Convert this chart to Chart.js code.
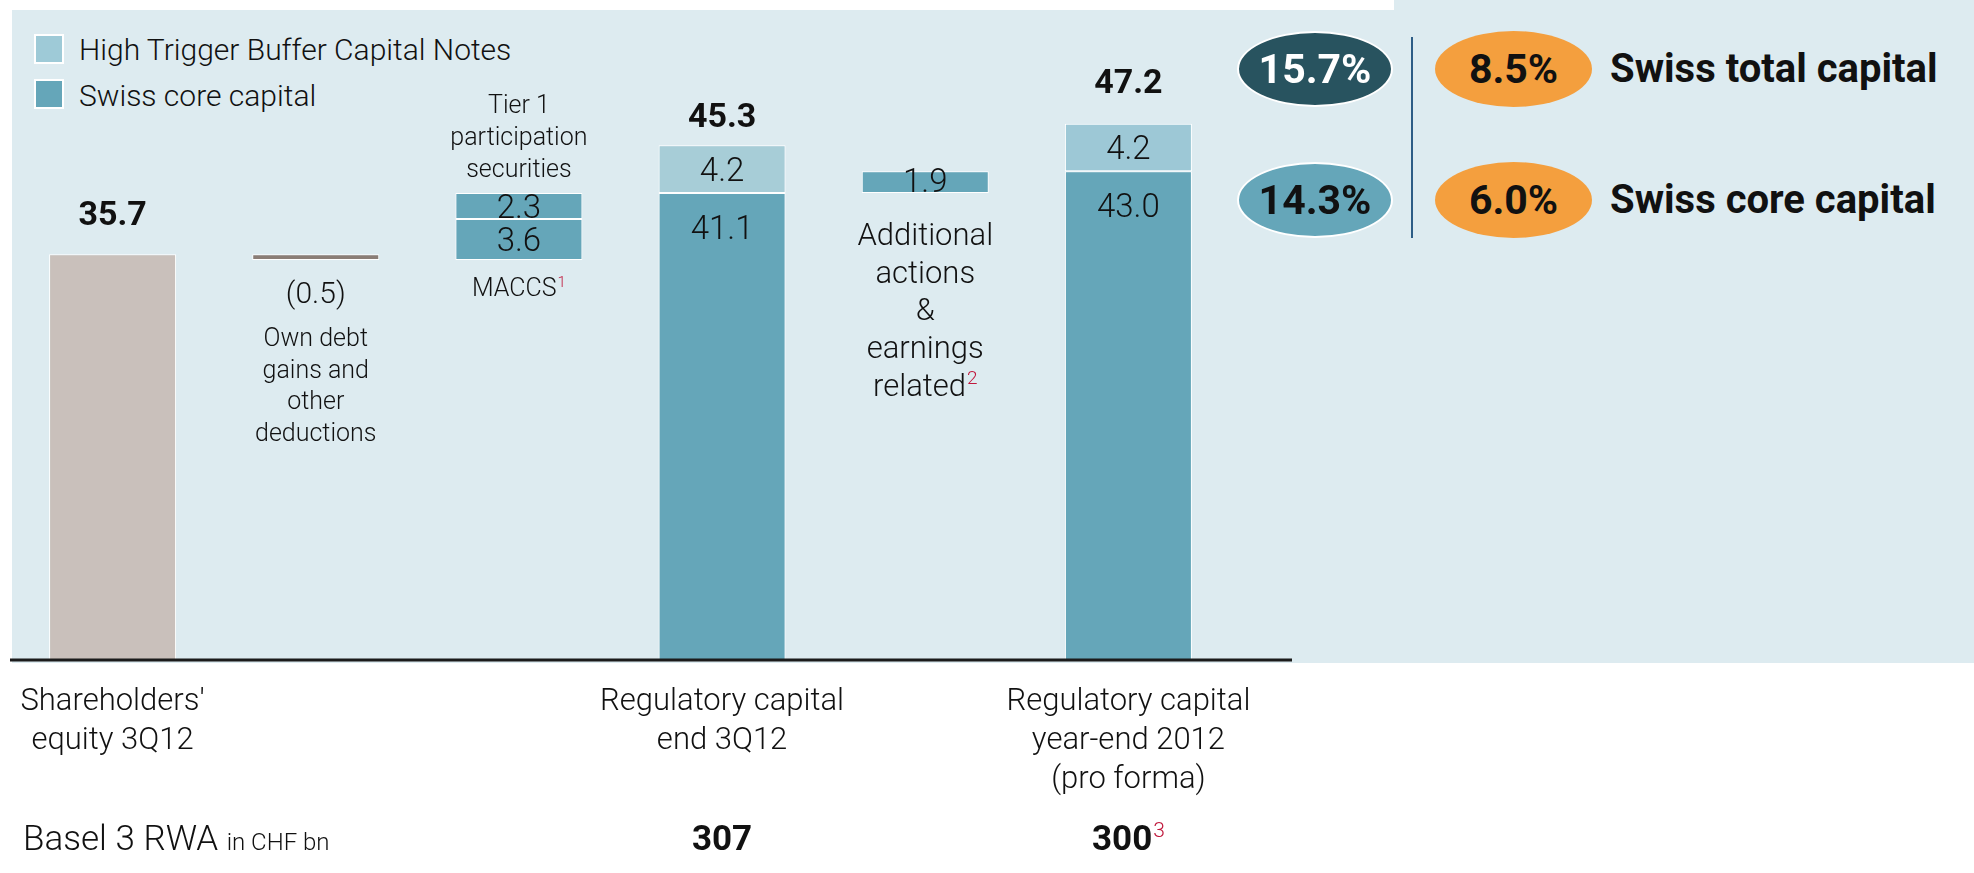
<!DOCTYPE html>
<html>
<head>
<meta charset="utf-8">
<script src="https://cdn.jsdelivr.net/npm/chart.js@4.4.1/dist/chart.umd.min.js"></script>
<style>
  html, body { margin: 0; padding: 0; background: #fff; }
  #page { position: relative; width: 1974px; height: 873px; overflow: hidden;
          font-family: Roboto, "Liberation Sans", sans-serif; color: #111; }
  .panel { position: absolute; background: #ddebf0; }
  #chart { position: absolute; left: 0; top: 0; }
  .swatch { position: absolute; width: 30px; height: 30px; border: 2px solid #fff; box-sizing: border-box; }
  .legend-text { position: absolute; font-size: 30px; font-weight: 300; line-height: 1; white-space: nowrap; }
  .oval { position: absolute; border-radius: 50%; display: flex; align-items: center; justify-content: center;
          font-weight: 700; font-size: 41px; box-sizing: border-box; }
  .ratio-name { position: absolute; font-weight: 700; font-size: 40px; line-height: 1; white-space: nowrap; }
</style>
</head>
<body>
<div id="page">
  <div class="panel" style="left:12px;top:10px;width:1962px;height:653px"></div>
  <div class="panel" style="left:1394px;top:0;width:580px;height:10px"></div>

  <div class="swatch" style="left:34px;top:34px;background:#9ecad7"></div>
  <div class="legend-text" style="left:79px;top:35px">High Trigger Buffer Capital Notes</div>
  <div class="swatch" style="left:34px;top:79px;background:#65a6b9"></div>
  <div class="legend-text" style="left:79px;top:81px">Swiss core capital</div>

  <canvas id="chart" width="1300" height="873"></canvas>

  <div id="ratios"></div>
</div>

<script>
// ── Data ────────────────────────────────────────────────────────────────

const categories = [
  "Shareholders' equity 3Q12",
  "Own debt gains and other deductions",
  "MACCS / Tier 1 participation securities",
  "Regulatory capital end 3Q12",
  "Additional actions & earnings related",
  "Regulatory capital year-end 2012 (pro forma)",
];
const isTotal = [true, false, false, true, false, true];
const equity = [35.7, null, null, null, null, null];
const deductions = [null, -0.5, null, null, null, null];
const coreCapital = [null, null, 3.6, 41.1, 1.9, 43.0];
const tier1Securities = [null, null, 2.3, null, null, null];
const bufferNotes = [null, null, null, 4.2, null, 4.2];
const totals = [35.7, null, null, 45.3, null, 47.2];
const rwa = [null, null, null, 307, null, 300];

const categoryLines = [
  ["Shareholders'", "equity 3Q12"], [], [],
  ["Regulatory capital", "end 3Q12"], [],
  ["Regulatory capital", "year-end 2012", "(pro forma)"],
];

const ratioNames = ["Swiss total capital", "Swiss core capital"];
const ubsRatios = [15.7, 14.3];
const requiredRatios = [8.5, 6.0];

// ── Floating bar ranges built from the steps ────────────────────────────

const equityBars = [], deductionBars = [], coreBars = [], tier1Bars = [], bufferBars = [];
let running = 0;
categories.forEach((_, i) => {
  equityBars[i] = null; deductionBars[i] = null; coreBars[i] = null; tier1Bars[i] = null; bufferBars[i] = null;
  if (equity[i] != null) { equityBars[i] = [0, equity[i]]; running = equity[i]; }
  if (deductions[i] != null) { deductionBars[i] = [running + deductions[i], running]; running += deductions[i]; }
  if (coreCapital[i] != null) {
    if (isTotal[i]) { coreBars[i] = [0, coreCapital[i]]; running = coreCapital[i]; }
    else { coreBars[i] = [running, running + coreCapital[i]]; running += coreCapital[i]; }
  }
  if (tier1Securities[i] != null) { tier1Bars[i] = [running, running + tier1Securities[i]]; running += tier1Securities[i]; }
  if (bufferNotes[i] != null) bufferBars[i] = [running, running + bufferNotes[i]];
});

// ── Styling ─────────────────────────────────────────────────────────────

const FONT = 'Roboto, "Liberation Sans", sans-serif';
const RED = "#c0183c";
const totalLabelGap = [29, 0, 0, 18, 0, 31];

function font(size, weight) {
  return `${weight || 300} ${size}px ${FONT}`;
}

// text centred on cx, baseline at y, optional red superscript
function drawCentered(ctx, text, cx, y, size, weight, sup) {
  ctx.font = font(size, weight);
  const w = ctx.measureText(text).width;
  let sw = 0;
  const supSize = Math.round(size * 0.6);
  if (sup) {
    ctx.font = font(supSize, 300);
    sw = ctx.measureText(sup).width + 1;
  }
  const x0 = cx - (w + sw) / 2;
  ctx.textAlign = "left";
  ctx.textBaseline = "alphabetic";
  ctx.font = font(size, weight);
  ctx.fillStyle = "#111";
  ctx.fillText(text, x0, y);
  if (sup) {
    ctx.font = font(supSize, 300);
    ctx.fillStyle = RED;
    ctx.fillText(sup, x0 + w + 1, y - size * 0.38);
  }
}

function drawInside(ctx, text, cx, centerY) {
  drawCentered(ctx, text, cx, centerY + 33 * 0.36, 33, 300);
}

const overlayPlugin = {
  id: "overlay",
  afterDatasetsDraw(chart) {
    const ctx = chart.ctx;
    const xs = chart.scales.x, ys = chart.scales.y;
    const seg = (di, i) => {
      const el = chart.getDatasetMeta(di).data[i];
      return { top: Math.min(el.y, el.base), bottom: Math.max(el.y, el.base), x: el.x };
    };
    ctx.save();

    // x axis line
    ctx.fillStyle = "#1b1b1b";
    ctx.fillRect(10, ys.getPixelForValue(0) - 1.5, 1282, 3);

    categories.forEach((_, i) => {
      const cx = xs.getPixelForValue(i);

      if (totals[i] != null) {
        drawCentered(ctx, totals[i].toFixed(1), cx, ys.getPixelForValue(totals[i]) - totalLabelGap[i], 34, 700);
      }
      if (deductions[i] != null) {
        const s = seg(1, i);
        drawCentered(ctx, "(" + Math.abs(deductions[i]).toFixed(1) + ")", cx, s.bottom + 43, 30, 300);
        ["Own debt", "gains and", "other", "deductions"].forEach((t, k) =>
          drawCentered(ctx, t, cx, s.bottom + 86 + k * 31.7, 25, 300));
      }
      if (coreCapital[i] != null) {
        const s = seg(2, i);
        if (isTotal[i]) drawInside(ctx, coreCapital[i].toFixed(1), cx, s.top + 34);
        else drawInside(ctx, coreCapital[i].toFixed(1), cx, (s.top + s.bottom) / 2 - (tier1Securities[i] == null ? 2 : 0));
        if (!isTotal[i] && tier1Securities[i] != null) {
          drawCentered(ctx, "MACCS", cx, s.bottom + 36, 25, 300, "1");
        }
        if (!isTotal[i] && tier1Securities[i] == null) {
          ["Additional", "actions", "&", "earnings", "related"].forEach((t, k) =>
            drawCentered(ctx, t, cx, s.bottom + 52 + k * 37.7, 31, 300, k === 4 ? "2" : null));
        }
      }
      if (tier1Securities[i] != null) {
        const s = seg(3, i);
        drawInside(ctx, tier1Securities[i].toFixed(1), cx, (s.top + s.bottom) / 2);
        ["Tier 1", "participation", "securities"].forEach((t, k) =>
          drawCentered(ctx, t, cx, s.top - 16 - (2 - k) * 32, 25, 300));
      }
      if (bufferNotes[i] != null) {
        const s = seg(4, i);
        drawInside(ctx, bufferNotes[i].toFixed(1), cx, (s.top + s.bottom) / 2);
      }

      categoryLines[i].forEach((t, k) => drawCentered(ctx, t, cx, 710 + k * 39, 31, 300));

      if (rwa[i] != null) {
        drawCentered(ctx, String(rwa[i]), cx, 850, 35, 700, i === 5 ? "3" : null);
      }
    });

    // RWA row caption
    ctx.textAlign = "left";
    ctx.fillStyle = "#111";
    ctx.font = font(35, 300);
    ctx.fillText("Basel 3 RWA", 23, 850);
    const w = ctx.measureText("Basel 3 RWA ").width;
    ctx.font = font(24, 300);
    ctx.fillText("in CHF bn", 23 + w, 850);

    ctx.restore();
  },
};

// ── Chart ───────────────────────────────────────────────────────────────

const barStyle = { borderColor: "#ffffff", borderWidth: 1, borderSkipped: false, barPercentage: 0.625, categoryPercentage: 1 };

new Chart(document.getElementById("chart"), {
  type: "bar",
  data: {
    labels: categories,
    datasets: [
      { label: "Shareholders' equity", data: equityBars, backgroundColor: "#c9c0bb", ...barStyle },
      { label: "Deductions", data: deductionBars, backgroundColor: "#8a7d76", ...barStyle },
      { label: "Swiss core capital", data: coreBars, backgroundColor: "#65a6b9", ...barStyle },
      { label: "Tier 1 participation securities", data: tier1Bars, backgroundColor: "#65a6b9", ...barStyle },
      { label: "High Trigger Buffer Capital Notes", data: bufferBars,
        backgroundColor: ["#a7cdd7", "#a7cdd7", "#a7cdd7", "#a7cdd7", "#9dc8d6", "#9dc8d6"], ...barStyle },
    ],
  },
  options: {
    responsive: false,
    animation: false,
    devicePixelRatio: 1,
    layout: { padding: { left: 11, right: 70, top: 35, bottom: 213 } },
    scales: {
      x: { display: false, stacked: true },
      y: { display: false, stacked: false, min: 0, max: 55 },
    },
    plugins: { legend: { display: false }, tooltip: { enabled: false } },
  },
  plugins: [overlayPlugin],
});

// ── Ratio ovals (right side) ────────────────────────────────────────────

const ratios = document.getElementById("ratios");
const ovalColors = [["#28535f", "#fff"], ["#65a6b9", "#111"]];
ratioNames.forEach((name, k) => {
  const top = 31 + k * 131;
  ratios.insertAdjacentHTML("beforeend", `
    <div class="oval" style="left:1237px;top:${top}px;width:156px;height:76px;border:2px solid #fff;background:${ovalColors[k][0]};color:${ovalColors[k][1]}">${ubsRatios[k].toFixed(1)}%</div>
    <div class="oval" style="left:1435px;top:${top}px;width:157px;height:76px;background:#f49f3e;color:#111">${requiredRatios[k].toFixed(1)}%</div>
    <div class="ratio-name" style="left:1610px;top:${top + 18}px">${name}</div>`);
});
ratios.insertAdjacentHTML("beforeend",
  '<div style="position:absolute;left:1411px;top:37px;width:2px;height:201px;background:#2d5d86"></div>');
</script>
</body>
</html>
